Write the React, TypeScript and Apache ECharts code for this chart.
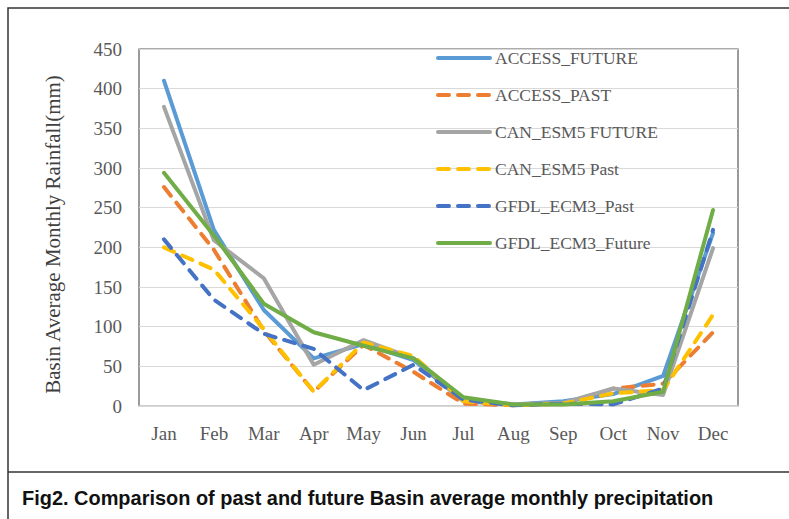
import React, { useEffect, useRef } from 'react';
import * as echarts from 'echarts';

const months = ['Jan', 'Feb', 'Mar', 'Apr', 'May', 'Jun', 'Jul', 'Aug', 'Sep', 'Oct', 'Nov', 'Dec'];

const accessFuture = [410, 222, 121, 60, 78, 58, 6, 2, 6, 15, 38, 218];
const accessPast = [276, 197, 95, 18, 77, 43, 3, 1, 3, 22, 28, 93];
const canFuture = [377, 209, 161, 52, 83, 60, 9, 2, 4, 22, 14, 199];
const canPast = [200, 172, 97, 18, 80, 63, 6, 1, 3, 16, 20, 115];
const gfdlPast = [210, 134, 91, 72, 20, 52, 8, 1, 3, 2, 22, 222];
const gfdlFuture = [294, 215, 129, 93, 76, 60, 11, 2, 2, 6, 18, 247];

const seriesNames = [
  'ACCESS_FUTURE',
  'ACCESS_PAST',
  'CAN_ESM5 FUTURE',
  'CAN_ESM5 Past',
  'GFDL_ECM3_Past',
  'GFDL_ECM3_Future',
];
const seriesData = [accessFuture, accessPast, canFuture, canPast, gfdlPast, gfdlFuture];
const seriesColors = ['#5B9BD5', '#ED7D31', '#A5A5A5', '#FFC000', '#4472C4', '#70AD47'];
const seriesDashed = [false, true, false, true, true, false];

const yTitle = 'Basin Average Monthly Rainfall(mm)';
const caption = 'Fig2. Comparison of past and future Basin average monthly precipitation';

const serif = 'Liberation Serif, Times New Roman, serif';

export default function App() {
  const ref = useRef<HTMLDivElement>(null);
  useEffect(() => {
    const chart = echarts.init(ref.current!, null, { renderer: 'svg' });
    chart.setOption({
      animation: false,
      backgroundColor: '#ffffff',
      grid: {
        left: 139,
        right: 51,
        top: 49,
        bottom: 113,
        show: true,
        borderColor: '#595959',
        borderWidth: 1.2,
        containLabel: false,
      },
      legend: {
        orient: 'vertical',
        left: 431,
        top: 44,
        itemWidth: 52,
        itemHeight: 17,
        itemGap: 19,
        selectedMode: false,
        data: seriesNames,
        lineStyle: { width: 4 },
        itemStyle: { opacity: 0 },
        textStyle: { fontFamily: serif, fontSize: 17.5, color: '#595959', lineHeight: 17 },
      },
      xAxis: {
        type: 'category',
        data: months,
        boundaryGap: true,
        axisTick: { show: false },
        axisLine: { show: true, lineStyle: { color: '#d9d9d9', width: 1.6 } },
        axisLabel: { fontFamily: serif, fontSize: 19, color: '#595959', margin: 18 },
      },
      yAxis: {
        type: 'value',
        min: 0,
        max: 450,
        interval: 50,
        axisLine: { show: false },
        axisTick: { show: false },
        splitLine: { lineStyle: { color: '#d9d9d9', width: 1 } },
        axisLabel: { fontFamily: serif, fontSize: 19, color: '#595959', margin: 17 },
        name: yTitle,
        nameLocation: 'middle',
        nameRotate: 90,
        nameGap: 76,
        nameTextStyle: { fontFamily: serif, fontSize: 21, color: '#404040', padding: [0, 14, 0, 0] },
      },
      series: seriesNames.map((name, i) => ({
        name,
        type: 'line',
        data: seriesData[i],
        symbol: 'none',
        showSymbol: false,
        lineStyle: {
          color: seriesColors[i],
          width: 4,
          type: seriesDashed[i] ? [11, 9] : 'solid',
          cap: 'round',
          join: 'round',
        },
        itemStyle: { color: seriesColors[i] },
      })),
      graphic: [
        {
          type: 'rect',
          shape: { x: 8, y: 8, width: 800, height: 530 },
          style: { fill: 'none', stroke: '#333333', lineWidth: 1.5 },
          silent: true,
        },
        {
          type: 'line',
          shape: { x1: 8, y1: 472, x2: 789, y2: 472 },
          style: { stroke: '#333333', lineWidth: 1.5 },
          silent: true,
        },
        {
          type: 'text',
          x: 22,
          y: 497,
          scaleX: 0.95,
          style: {
            text: caption,
            x: 0,
            y: 0,
            verticalAlign: 'middle',
            align: 'left',
            fontFamily: 'Liberation Sans, Arial, sans-serif',
            fontWeight: 'bold',
            fontSize: 21,
            fill: '#111111',
          },
          silent: true,
        },
      ],
    });
    return () => chart.dispose();
  }, []);
  return (
    <div
      ref={ref}
      style={{ position: 'fixed', left: 0, top: 0, width: 789, height: 519, background: '#fff' }}
    />
  );
}
